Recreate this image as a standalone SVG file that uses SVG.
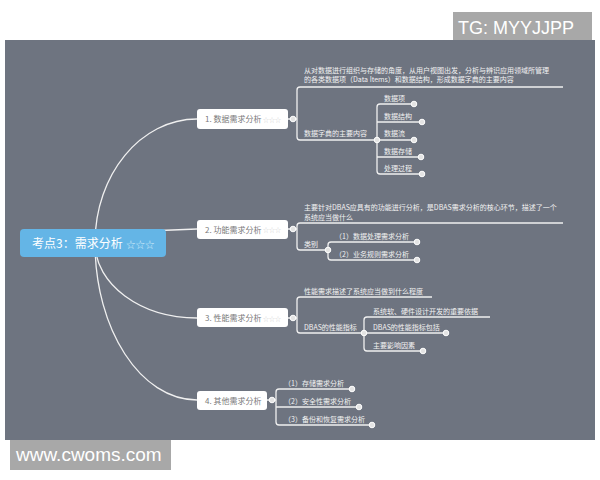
<svg xmlns="http://www.w3.org/2000/svg" width="600" height="480" viewBox="0 0 600 480">
<style>
.ln{fill:none;stroke:#f0f0f0;stroke-width:1.3}
.dot{fill:#e4e4e4;stroke:#ffffff;stroke-width:1}
.t{font-family:"Noto Sans CJK SC","Noto Sans",sans-serif;font-size:7px;fill:#f2f2f2}
.nt{font-family:"Noto Sans CJK SC","Noto Sans",sans-serif;font-size:8px;fill:#7a7a7a}
.st{font-family:"Noto Sans CJK SC","DejaVu Sans",sans-serif;font-size:6px;fill:#cfcfcf}
.box{fill:#ffffff}
.wm{font-family:"Liberation Sans",Arial,sans-serif;fill:#ffffff}
</style>
<rect x="0" y="0" width="600" height="480" fill="#ffffff"/>
<rect x="5" y="40" width="590" height="400" fill="#6e7480"/>
<g id="watermark-top">
<rect x="453" y="12" width="139" height="28" fill="#a8a8a8"/>
<text class="wm" x="458" y="34" font-size="18">TG: MYYJJPP</text>
</g>
<g id="watermark-bottom">
<rect x="10" y="440" width="161" height="30" fill="#a8a8a8"/>
<text class="wm" x="16" y="461" font-size="19">www.cwoms.com</text>
</g>
<g id="connectors">
<path class="ln" d="M95,243 C95,174.5 140.7,119 197,119"/>
<path class="ln" d="M160,230.5 L197,229"/>
<path class="ln" d="M95,243 C95,284.4 140.7,318 197,318"/>
<path class="ln" d="M95,243 C95,329.7 140.7,400 197,400"/>
<path class="ln" d="M288,119 H297 M563,87 H300 Q297,87 297,90 V137 Q297,140 300,140 H377"/>
<path class="ln" d="M414,104 H380 Q377,104 377,107 V171 Q377,174 380,174 H422 M377,122 H422 M377,140 H414 M377,157 H421"/>
<path class="ln" d="M288,229 H297 M563,223 H300 Q297,223 297,226 V247 Q297,250 300,250 H328"/>
<path class="ln" d="M417,242 H331 Q328,242 328,245 V257 Q328,260 331,260 H417"/>
<path class="ln" d="M288,318 H297 M432,297 H300 Q297,297 297,300 V330 Q297,333 300,333 H364"/>
<path class="ln" d="M490,317 H367 Q364,317 364,320 V348 Q364,351 367,351 H423 M364,333 H446"/>
<path class="ln" d="M267,400 H276 M352,389 H279 Q276,389 276,392 V422 Q276,425 279,425 H372 M276,407 H359"/>
</g>
<g id="root">
<rect x="20" y="229" width="146" height="28" rx="4" fill="#64b5e6"/>
<text x="32" y="248" font-family="Noto Sans CJK SC,sans-serif" font-size="12" fill="#ffffff">考点3：需求分析</text>
<text x="126" y="247.5" font-family="Noto Sans CJK SC,DejaVu Sans,sans-serif" font-size="9.5" fill="#d2eaf8">☆☆☆</text>
</g>
<g id="node1">
<rect class="box" x="197" y="109" width="91" height="20" rx="3"/>
<text class="nt" x="205" y="122">1. 数据需求分析</text>
<text class="st" x="263" y="121.5">☆☆☆</text>
<circle class="dot" cx="293" cy="119" r="2.8"/>
<text class="t" x="304" y="72.5">从对数据进行组织与存储的角度，从用户视图出发，分析与辨识应用领域所管理</text>
<text class="t" x="304" y="81.5">的各类数据项（Data Items）和数据结构，形成数据字典的主要内容</text>
<text class="t" x="304" y="136">数据字典的主要内容</text>
<circle class="dot" cx="377" cy="140" r="2.8"/>
<text class="t" x="384" y="100.5">数据项</text>
<text class="t" x="384" y="118.5">数据结构</text>
<text class="t" x="384" y="135.5">数据流</text>
<text class="t" x="384" y="153.5">数据存储</text>
<text class="t" x="384" y="170.5">处理过程</text>
<circle class="dot" cx="414" cy="104" r="2.8"/>
<circle class="dot" cx="422" cy="122" r="2.8"/>
<circle class="dot" cx="414" cy="140" r="2.8"/>
<circle class="dot" cx="421" cy="157" r="2.8"/>
<circle class="dot" cx="422" cy="174" r="2.8"/>
</g>
<g id="node2">
<rect class="box" x="197" y="220" width="91" height="19" rx="3"/>
<text class="nt" x="205" y="232.5">2. 功能需求分析</text>
<text class="st" x="263" y="232">☆☆☆</text>
<circle class="dot" cx="293" cy="229" r="2.8"/>
<text class="t" x="304" y="209.5">主要针对DBAS应具有的功能进行分析，是DBAS需求分析的核心环节，描述了一个</text>
<text class="t" x="304" y="219.5">系统应当做什么</text>
<text class="t" x="304" y="246.5">类别</text>
<circle class="dot" cx="328" cy="250" r="2.8"/>
<text class="t" x="335" y="238.5">（1）数据处理需求分析</text>
<text class="t" x="335" y="256.5">（2）业务规则需求分析</text>
<circle class="dot" cx="417" cy="242" r="2.8"/>
<circle class="dot" cx="417" cy="260" r="2.8"/>
</g>
<g id="node3">
<rect class="box" x="197" y="308" width="91" height="19" rx="3"/>
<text class="nt" x="205" y="321">3. 性能需求分析</text>
<text class="st" x="263" y="320.5">☆☆☆</text>
<circle class="dot" cx="293" cy="318" r="2.8"/>
<text class="t" x="304" y="293.5">性能需求描述了系统应当做到什么程度</text>
<text class="t" x="304" y="329.5">DBAS的性能指标</text>
<circle class="dot" cx="364" cy="333" r="2.8"/>
<text class="t" x="373" y="313.5">系统软、硬件设计开发的重要依据</text>
<text class="t" x="373" y="329.5">DBAS的性能指标包括</text>
<text class="t" x="373" y="347.5">主要影响因素</text>
<circle class="dot" cx="446" cy="333" r="2.8"/>
<circle class="dot" cx="423" cy="351" r="2.8"/>
</g>
<g id="node4">
<rect class="box" x="197" y="391" width="70" height="19" rx="3"/>
<text class="nt" x="205" y="403.5">4. 其他需求分析</text>
<circle class="dot" cx="272" cy="400" r="2.8"/>
<text class="t" x="284" y="385.5">（1）存储需求分析</text>
<text class="t" x="284" y="403.5">（2）安全性需求分析</text>
<text class="t" x="284" y="421.5">（3）备份和恢复需求分析</text>
<circle class="dot" cx="352" cy="389" r="2.8"/>
<circle class="dot" cx="359" cy="407" r="2.8"/>
<circle class="dot" cx="372" cy="425" r="2.8"/>
</g>
</svg>
